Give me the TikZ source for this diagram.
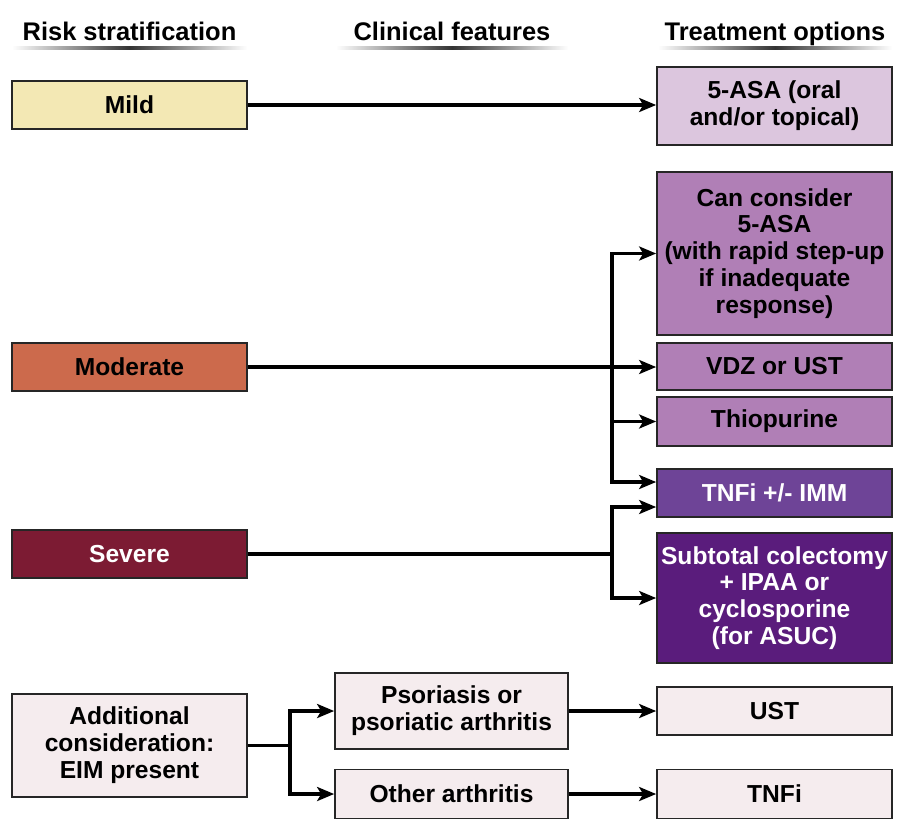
\documentclass[tikz,border=0pt]{standalone}
\usepackage{fontspec}
\setmainfont{Liberation Sans}
\usetikzlibrary{arrows.meta}
\definecolor{mildfill}{HTML}{F3E8B4}
\definecolor{asafill}{HTML}{DCC6DE}
\definecolor{midfill}{HTML}{B07FB6}
\definecolor{tnfifill}{HTML}{6E4497}
\definecolor{surgfill}{HTML}{5A1C7C}
\definecolor{modfill}{HTML}{CC6A4C}
\definecolor{sevfill}{HTML}{7C1B33}
\definecolor{eimfill}{HTML}{F5ECEE}

\begin{document}
\begin{tikzpicture}[x=0.02cm,y=-0.02cm,
  box/.style={draw=black!85,line width=1pt,minimum width=4.7cm,align=center,inner sep=2pt,font=\bfseries\fontsize{14}{15.3}\selectfont},
  head/.style={anchor=base,font=\bfseries\fontsize{14.5}{16}\selectfont},
  arr/.style={line width=1.8pt,-{Stealth[length=0.34cm,width=0.28cm,inset=0.08cm]}},
  link/.style={line width=1.8pt}]
\useasboundingbox (0,0) rectangle (905,839);

% headings
\node[head] at (129.5,40) (hrisk) {Risk stratification};
\node[head] at (452,40) (hclin) {Clinical features};
\node[head] at (775,40) (htreat) {Treatment options};
\shade[left color=white,right color=white,middle color=black!80] (12,46.5) rectangle (247,49.5);
\shade[left color=white,right color=white,middle color=black!80] (336,46.5) rectangle (568,49.5);
\shade[left color=white,right color=white,middle color=black!80] (658,46.5) rectangle (892,49.5);

% risk groups
\node[box,fill=mildfill,minimum height=0.96cm] at (129.5,105) (mild) {Mild};
\node[box,fill=modfill,minimum height=0.96cm] at (129.5,367) (moderate) {Moderate};
\node[box,fill=sevfill,text=white,minimum height=0.96cm] at (129.5,554) (severe) {Severe};
\node[box,fill=eimfill,minimum height=2.06cm] at (129.5,745.5) (eim) {Additional\\consideration:\\EIM present};

% clinical features
\node[box,fill=eimfill,minimum width=4.66cm,minimum height=1.52cm] at (451.5,711) (psor) {Psoriasis or\\psoriatic arthritis};
\node[box,fill=eimfill,minimum width=4.66cm,minimum height=0.98cm] at (451.5,794) (other) {Other arthritis};

% treatment options
\node[box,fill=asafill,minimum height=1.56cm] at (774.5,106) (asa) {5-ASA (oral\\and/or topical)};
\node[box,fill=midfill,minimum height=3.26cm] at (774.5,253.5) (consider) {Can consider\\5-ASA\\(with rapid step-up\\if inadequate\\response)};
\node[box,fill=midfill,minimum height=0.94cm] at (774.5,366.5) (vdz) {VDZ or UST};
\node[box,fill=midfill,minimum height=0.98cm] at (774.5,421.5) (thio) {Thiopurine};
\node[box,fill=tnfifill,text=white,minimum height=0.96cm] at (774.5,493) (tnfiimm) {TNFi +/- IMM};
\node[box,fill=surgfill,text=white,minimum height=2.6cm] at (774.5,598) (colect) {Subtotal colectomy\\+ IPAA or\\cyclosporine\\(for ASUC)};
\node[box,fill=eimfill,minimum height=0.96cm] at (774.5,711) (ust) {UST};
\node[box,fill=eimfill,minimum height=0.98cm] at (774.5,794) (tnfi) {TNFi};

% split points
\coordinate (modsplit) at (612,367);
\coordinate (sevsplit) at (612,554);
\coordinate (eimsplit) at (290,745.5);

\draw[arr] (mild.east) -- (mild.east -| asa.west);
\draw[arr] (moderate.east) -- (moderate.east -| vdz.west);
\draw[arr] (modsplit) |- (consider.west);
\draw[arr] (modsplit) |- (thio.west);
\draw[arr] (modsplit) |- ([yshift=0.22cm]tnfiimm.west);
\draw[link] (severe.east) -- (sevsplit);
\draw[arr] (sevsplit) |- ([yshift=-0.28cm]tnfiimm.west);
\draw[arr] (sevsplit) |- (colect.west);
\draw[link] (eim.east) -- (eimsplit);
\draw[arr] (eimsplit) |- (psor.west);
\draw[arr] (eimsplit) |- (other.west);
\draw[arr] (psor.east) -- (ust.west);
\draw[arr] (other.east) -- (tnfi.west);
\end{tikzpicture}
\end{document}
